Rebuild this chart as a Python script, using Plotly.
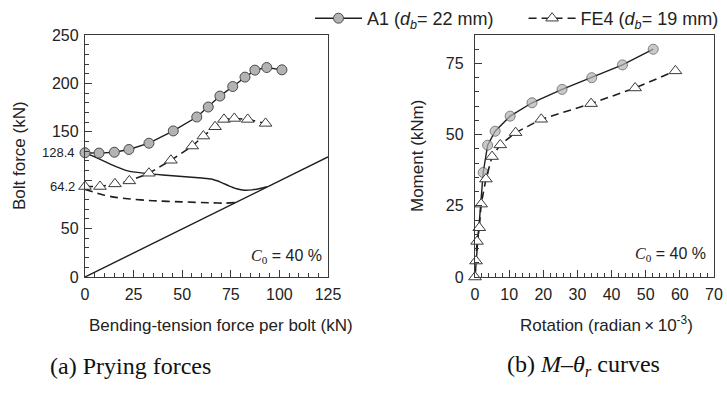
import plotly.graph_objects as go

W, H = 727, 400
SANS = "Liberation Sans, Arial, sans-serif"
SERIF = "Liberation Serif, Times New Roman, serif"
INK = "#1e1e1e"
FRAME = "#3a3a3a"

# ---- (a) Prying forces: bolt force vs. bending-tension force per bolt (kN)
a1_tension = [0, 7.2, 15.1, 22.6, 32.9, 45.4, 57.5, 63.4, 69.4, 76.0, 82.3, 87.4, 93.5, 101.3]
a1_bolt = [128.4, 128.0, 128.9, 131.7, 138.2, 150.9, 165.3, 175.6, 186.9, 196.8, 206.5, 213.7, 216.4, 214.0]

fe4_tension = [0, 7.7, 15.4, 22.8, 32.9, 44.2, 55.2, 60.9, 66.9, 71.5, 76.8, 83.7, 92.9]
fe4_bolt = [93.5, 93.5, 96.2, 99.3, 107.2, 120.6, 135.3, 145.6, 155.2, 162.8, 163.8, 162.8, 158.7]

# prying-force curves (no markers)
a1_pry_tension = [0, 5, 10, 16, 22, 30, 40, 50, 60, 65, 70, 74, 78, 82, 86, 90, 93.5]
a1_pry_force = [128.4, 124.0, 119.5, 114.0, 109.6, 107.3, 105.4, 103.8, 102.2, 101.2, 97.8, 94.2, 91.2, 89.6, 90.0, 91.4, 93.2]

fe4_pry_tension = [0, 4, 10, 15, 22, 35, 50, 65, 72, 77]
fe4_pry_force = [90.5, 88.0, 84.5, 82.5, 80.8, 78.8, 77.6, 76.6, 76.3, 76.8]

# applied force = bolt force (no prying)
no_pry_tension = [0, 125]
no_pry_force = [0, 124]

pretension_labels = ["128.4", "64.2"]

# ---- (b) Moment-rotation curves
a1_rot = [0, 2.4, 3.7, 5.9, 10.3, 16.7, 25.5, 34.2, 43.2, 52.2]
a1_moment = [0, 36.7, 46.3, 51.2, 56.5, 61.2, 65.9, 70.0, 74.5, 80.0]

fe4_rot = [0, 0.3, 0.6, 1.25, 1.8, 3.2, 5.0, 7.4, 11.9, 19.4, 34.0, 46.9, 58.7]
fe4_moment = [0, 5.6, 12.5, 17.3, 25.6, 34.4, 42.3, 46.4, 50.7, 55.4, 60.9, 66.4, 72.4]

A1_NAME = "A1 (<i>d</i><sub><i>b</i></sub>= 22 mm)\u00a0\u00a0\u00a0\u00a0\u00a0"
FE4_NAME = "FE4 (<i>d</i><sub><i>b</i></sub>= 19 mm)"

circle = dict(symbol="circle", size=10, color="#b3b3b3", line=dict(color="#4a4a4a", width=1))
tri = dict(symbol="triangle-up", size=11, color="white", line=dict(color="#3a3a3a", width=1))

fig = go.Figure()

# (a) plain curves
fig.add_trace(go.Scatter(x=no_pry_tension, y=no_pry_force, mode="lines",
                         line=dict(color=INK, width=1.4), showlegend=False,
                         xaxis="x", yaxis="y"))
fig.add_trace(go.Scatter(x=a1_pry_tension, y=a1_pry_force, mode="lines",
                         line=dict(color=INK, width=1.4, shape="spline", smoothing=0.6),
                         showlegend=False, xaxis="x", yaxis="y"))
fig.add_trace(go.Scatter(x=fe4_pry_tension, y=fe4_pry_force, mode="lines",
                         line=dict(color=INK, width=1.6, dash="8px,5px", shape="spline", smoothing=0.6),
                         showlegend=False, xaxis="x", yaxis="y"))

# (a) marked curves
fig.add_trace(go.Scatter(x=a1_tension, y=a1_bolt, mode="lines+markers", name=A1_NAME,
                         line=dict(color=INK, width=1.4), marker=circle, cliponaxis=False,
                         legendgroup="a1", xaxis="x", yaxis="y"))
fig.add_trace(go.Scatter(x=fe4_tension, y=fe4_bolt, mode="lines+markers", name=FE4_NAME,
                         line=dict(color=INK, width=1.6, dash="8px,5px"), marker=tri, cliponaxis=False,
                         legendgroup="fe4", xaxis="x", yaxis="y"))

# (b) moment-rotation
a1_sizes = [0] + [10] * (len(a1_rot) - 1)
fig.add_trace(go.Scatter(x=a1_rot, y=a1_moment, mode="lines+markers", name=A1_NAME,
                         line=dict(color=INK, width=1.4), marker=dict(circle, size=a1_sizes),
                         cliponaxis=False, showlegend=False, legendgroup="a1",
                         xaxis="x2", yaxis="y2"))
fig.add_trace(go.Scatter(x=fe4_rot, y=fe4_moment, mode="lines+markers", name=FE4_NAME,
                         line=dict(color=INK, width=1.6, dash="8px,5px"), marker=tri,
                         cliponaxis=False, showlegend=False, legendgroup="fe4",
                         xaxis="x2", yaxis="y2"))


def px_x(v):
    return v / W


def px_y(v):
    return 1 - v / H


def axis(rng, major, minor, **kw):
    d = dict(range=rng, showline=True, linecolor=FRAME, linewidth=1.3, mirror=True,
             ticks="inside", ticklen=7, tickwidth=1.1, tickcolor=FRAME,
             showgrid=False, zeroline=False, automargin=False,
             tickfont=dict(family=SANS, size=16, color="#222"),
             minor=dict(ticks="inside", ticklen=4, tickwidth=1, tickcolor=FRAME,
                        tickmode="linear", tick0=0, dtick=minor, showgrid=False))
    if major is not None:
        d.update(tickmode="linear", tick0=0, dtick=major)
    d.update(kw)
    return d


ydom = [px_y(277), px_y(35)]
fig.update_layout(
    width=W, height=H,
    margin=dict(l=0, r=0, t=0, b=0, autoexpand=False),
    paper_bgcolor="white", plot_bgcolor="white",
    font=dict(family=SANS, color="#222"),
    xaxis=axis([0, 125], 25, 5, domain=[px_x(85), px_x(328)], anchor="y", ticklabelstandoff=3),
    yaxis=axis([0, 250], None, 10, domain=ydom, anchor="x",
               tickmode="array", tickvals=[0, 50, 100, 150, 200, 250],
               ticktext=["0", "50", "", "150", "200", "250"], ticklabelstandoff=2),
    xaxis2=axis([0, 70], 10, 2, domain=[px_x(475), px_x(714)], anchor="y2", ticklabelstandoff=3),
    yaxis2=axis([0, 85], 25, 5, domain=ydom, anchor="x2", ticklabelstandoff=7),
    legend=dict(orientation="h", x=px_x(310), y=px_y(0), xanchor="left", yanchor="top",
                font=dict(family=SANS, size=18, color="#222"), bgcolor="rgba(0,0,0,0)",
                itemwidth=47, tracegroupgap=0),
    showlegend=True,
)

ann = []
# pretension values at the start of each curve
for lbl, yv in zip(pretension_labels, [a1_bolt[0], fe4_bolt[0]]):
    ann.append(dict(text=lbl, x=px_x(77), y=yv, xref="paper", yref="y", xanchor="right",
                    yanchor="middle", showarrow=False, font=dict(family=SANS, size=13, color="#222")))

title_font = dict(family=SANS, size=17, color="#222")
ann += [
    dict(text="Bolt force (kN)", x=px_x(19), y=px_y(156), textangle=-90, font=title_font),
    dict(text="Moment (kNm)", x=px_x(417), y=px_y(156), textangle=-90, font=title_font),
    dict(text="Bending-tension force per bolt (kN)", x=px_x(221), y=px_y(325), font=title_font),
    dict(text="Rotation (radian\u2009\u00d7\u200910<sup>-3</sup>)", x=px_x(606), y=px_y(324), font=title_font),
]
c0 = "<span style='font-family:Liberation Serif'><i>C</i><sub>0</sub></span> = 40 %"
ann += [
    dict(text=c0, x=px_x(286), y=px_y(256), font=dict(family=SANS, size=16, color="#222")),
    dict(text=c0, x=px_x(670), y=px_y(255), font=dict(family=SANS, size=16, color="#222")),
]
cap_font = dict(family=SERIF, size=24, color="#111")
ann += [
    dict(text="(a) Prying forces", x=px_x(130), y=px_y(366), font=cap_font),
    dict(text="(b) <i>M</i>\u2013<i>\u03b8<sub>r</sub></i> curves", x=px_x(583), y=px_y(366), font=cap_font),
]
for a in ann:
    a.setdefault("xref", "paper")
    a.setdefault("yref", "paper")
    a.setdefault("showarrow", False)
    a.setdefault("xanchor", "center")
    a.setdefault("yanchor", "middle")
fig.update_layout(annotations=ann)

fig.write_html("out.html")
